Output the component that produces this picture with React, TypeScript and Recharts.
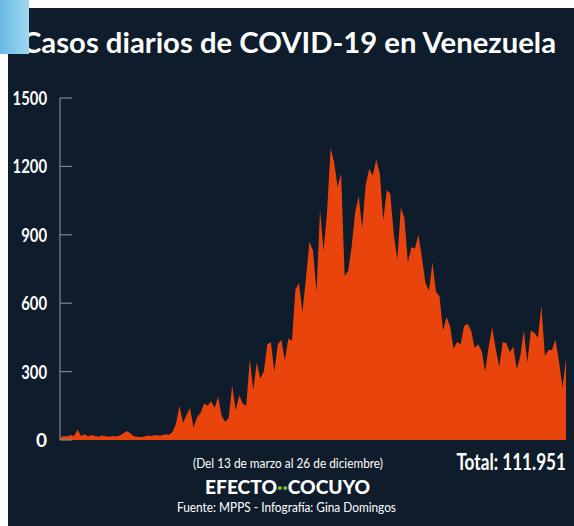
import React from "react";
import { Area, AreaChart, XAxis, YAxis } from "recharts";

// casos diarios, un valor cada dos días (13 mar – 26 dic)
const casos = [
  10, 18, 15, 22, 18, 45, 18, 25, 15, 22,
  18, 14, 20, 16, 14, 18, 15, 20, 28, 40,
  30, 16, 14, 12, 15, 20, 18, 22, 20, 20,
  25, 22, 35, 70, 150, 75, 110, 140, 55, 100,
  120, 160, 150, 170, 140, 190, 105, 80, 95, 240,
  130, 195, 160, 150, 355, 220, 340, 270, 300, 420,
  430, 300, 420, 440, 350, 445, 435, 660, 690, 560,
  710, 870, 830, 650, 1010, 830, 1000, 1280, 1220, 1110,
  1170, 720, 740, 850, 1000, 1070, 930, 1120, 1190, 1160,
  1230, 1170, 965, 1095, 1080, 900, 790, 1020, 975, 780,
  845, 840, 900, 800, 690, 655, 780, 650, 630, 480,
  540, 500, 400, 430, 420, 500, 510, 480, 405, 420,
  390, 300, 410, 495, 400, 320, 430, 425, 385, 410,
  310, 370, 480, 340, 480, 470, 450, 590, 370, 395,
  395, 440, 345, 230, 355,
];

const yTicks = [0, 300, 600, 900, 1200, 1500];

const data = casos.map((c, i) => ({ dia: i, casos: c }));

const BG = "#0e1c2b";
const ORANGE = "#e9440c";

function YTick(props: any) {
  const { x, y, payload } = props;
  const label = String(payload.value);
  const squeeze = label.length > 1 ? { textLength: label.length * 8.6, lengthAdjust: "spacingAndGlyphs" } : {};
  return (
    <g>
      <line x1={x} y1={y} x2={x + 12} y2={y} stroke="#7d8794" strokeWidth={1.2} />
      <text
        x={x - 13}
        y={y + 7}
        textAnchor="end"
        fill="#ffffff"
        fontFamily="Lato, 'Open Sans', sans-serif"
        fontWeight={700}
        fontSize={19}
        {...squeeze}
      >
        {label}
      </text>
    </g>
  );
}

export default function App() {
  return (
    <div>
      <div
        style={{
          position: "absolute",
          left: 8,
          top: 8,
          width: 566,
          height: 518,
          background: BG,
        }}
      />
      <div style={{ position: "absolute", left: 0, top: 0 }}>
        <AreaChart
          width={574}
          height={460}
          data={data}
          margin={{ top: 98, right: 8, bottom: 20, left: 0 }}
        >
          <XAxis dataKey="dia" hide />
          <YAxis
            width={60}
            domain={[0, 1500]}
            ticks={yTicks}
            tickSize={0}
            tickMargin={0}
            axisLine={{ stroke: "#7d8794", strokeWidth: 1.2 }}
            tickLine={false}
            tick={YTick}
            interval={0}
          />
          <Area
            type="linear"
            dataKey="casos"
            stroke="none"
            fill={ORANGE}
            fillOpacity={1}
            isAnimationActive={false}
          />
        </AreaChart>
      </div>
      <svg
        width={574}
        height={526}
        style={{ position: "absolute", left: 0, top: 0, pointerEvents: "none" }}
        fontFamily="Lato, 'Open Sans', sans-serif"
      >
        <text
          x={22}
          y={53}
          fill="#ffffff"
          fontSize={28}
          fontWeight={700}
          textLength={534}
          lengthAdjust="spacingAndGlyphs"
        >
          Casos diarios de COVID-19 en Venezuela
        </text>
        <text
          x={193}
          y={468}
          fill="#ffffff"
          fontSize={12.5}
          textLength={190}
          lengthAdjust="spacingAndGlyphs"
        >
          (Del 13 de marzo al 26 de diciembre)
        </text>
        <g transform="translate(566 470) scale(0.78 1)">
          <text x={0} y={0} textAnchor="end" fill="#ffffff" fontSize={22} fontWeight={700}>
            Total: 111.951
          </text>
        </g>
        <text
          x={205}
          y={494}
          fill="#ffffff"
          fontSize={18}
          fontWeight={900}
          textLength={165}
          lengthAdjust="spacingAndGlyphs"
        >
          EFECTO
          <tspan fill="#6dbb3c">··</tspan>
          COCUYO
        </text>
        <text
          x={177}
          y={512}
          fill="#ffffff"
          fontSize={12.5}
          textLength={219}
          lengthAdjust="spacingAndGlyphs"
        >
          Fuente: MPPS - Infografía: Gina Domingos
        </text>
      </svg>
      <div
        style={{
          position: "absolute",
          left: 0,
          top: 0,
          width: 29,
          height: 54,
          background: "linear-gradient(90deg, #6ab9e2 0%, #9fd8f2 100%)",
        }}
      />
    </div>
  );
}
